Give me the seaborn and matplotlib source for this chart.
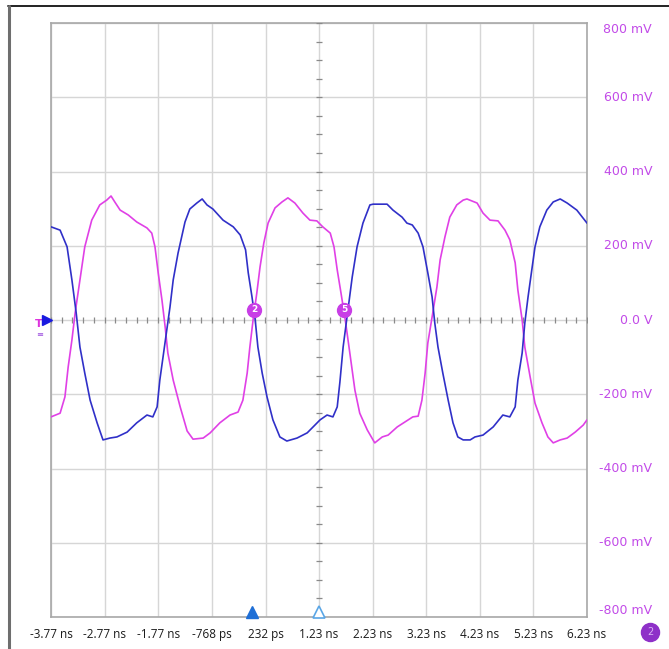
import numpy as np
import pandas as pd
import matplotlib
matplotlib.use("Agg")
import matplotlib.pyplot as plt
from matplotlib.lines import Line2D
import seaborn as sns

# ---- data (time in ns, voltage in mV) ----
blue_t = [-3.77, -3.60, -3.47, -3.38, -3.30, -3.23, -3.14, -3.04, -2.91, -2.80, -2.67, -2.54,
          -2.35, -2.17, -1.98, -1.87, -1.79, -1.74, -1.68, -1.61, -1.55, -1.49, -1.40, -1.27,
          -1.18, -1.05, -0.95, -0.86, -0.75, -0.56, -0.37, -0.24, -0.14, -0.09, -0.02, 0.04,
          0.09, 0.17, 0.26, 0.37, 0.50, 0.63, 0.82, 1.01, 1.12, 1.25, 1.38, 1.49, 1.57, 1.62,
          1.68, 1.75, 1.85, 1.94, 2.05, 2.18, 2.24, 2.50, 2.61, 2.78, 2.87, 2.97, 3.08, 3.17,
          3.26, 3.34, 3.39, 3.45, 3.54, 3.64, 3.73, 3.82, 3.92, 4.05, 4.14, 4.29, 4.48, 4.66,
          4.79, 4.89, 4.94, 5.02, 5.07, 5.13, 5.20, 5.26, 5.35, 5.48, 5.60, 5.73, 5.86, 6.04, 6.23]
blue_mv = [251, 242, 197, 108, 19, -73, -143, -216, -277, -323, -318, -315,
           -302, -277, -256, -261, -234, -162, -100, -27, 35, 108, 180, 264,
           299, 315, 326, 310, 299, 269, 251, 229, 189, 127, 62, 0,
           -73, -143, -207, -269, -315, -326, -318, -304, -288, -269, -256, -261, -234, -167,
           -73, 5, 116, 197, 261, 310, 312, 312, 296, 277, 261, 256, 234, 197,
           127, 62, -8, -73, -143, -216, -277, -315, -323, -323, -315, -310, -288, -256,
           -261, -234, -162, -89, -8, 62, 135, 197, 251, 296, 318, 326, 315, 296, 261]

mag_t = [-3.77, -3.60, -3.51, -3.45, -3.38, -3.32, -3.23, -3.14, -3.01, -2.86, -2.73, -2.65,
         -2.58, -2.48, -2.33, -2.17, -1.98, -1.89, -1.83, -1.77, -1.70, -1.64, -1.59, -1.49,
         -1.36, -1.23, -1.12, -0.93, -0.80, -0.62, -0.43, -0.28, -0.19, -0.11, -0.06, 0.00,
         0.07, 0.13, 0.20, 0.28, 0.41, 0.54, 0.65, 0.78, 0.93, 1.06, 1.19, 1.30, 1.44, 1.51,
         1.57, 1.64, 1.72, 1.81, 1.90, 1.99, 2.13, 2.27, 2.41, 2.52, 2.69, 2.83, 2.98, 3.08,
         3.15, 3.21, 3.26, 3.34, 3.43, 3.49, 3.58, 3.67, 3.80, 3.92, 3.99, 4.18, 4.29, 4.42,
         4.57, 4.70, 4.79, 4.89, 4.94, 5.02, 5.07, 5.17, 5.26, 5.39, 5.50, 5.60, 5.73, 5.86,
         6.01, 6.16, 6.23]
mag_mv = [-261, -251, -207, -127, -54, 19, 108, 197, 269, 310, 323, 334,
          318, 296, 283, 264, 248, 234, 197, 127, 54, -19, -89, -162,
          -234, -299, -321, -318, -304, -277, -256, -248, -216, -143, -73, 0,
          73, 143, 207, 261, 302, 318, 329, 315, 288, 269, 267, 251, 234, 197,
          135, 73, 0, -94, -189, -251, -296, -331, -315, -310, -288, -275, -261, -259,
          -216, -143, -62, 8, 89, 162, 224, 277, 310, 323, 326, 315, 288, 269,
          267, 242, 216, 154, 81, 0, -73, -154, -224, -277, -315, -331, -323, -318,
          -302, -283, -269]

x_ticks = [-3.77, -2.77, -1.77, -0.768, 0.232, 1.23, 2.23, 3.23, 4.23, 5.23, 6.23]
x_labels = ["-3.77 ns", "-2.77 ns", "-1.77 ns", "-768 ps", "232 ps", "1.23 ns",
            "2.23 ns", "3.23 ns", "4.23 ns", "5.23 ns", "6.23 ns"]
y_ticks = [800, 600, 400, 200, 0, -200, -400, -600, -800]
y_labels = ["800 mV", "600 mV", "400 mV", "200 mV", "0.0 V",
            "-200 mV", "-400 mV", "-600 mV", "-800 mV"]

# cursor markers
cursor_t = [0.02, 1.70]
cursor_mv = [27, 27]
cursor_txt = ["2", "5"]

BLUE = "#3030c8"
MAG = "#e040e6"
LABEL = "#c24be8"

sns.set_theme(style="white")
plt.rcParams['font.family'] = ['DejaVu Sans']

fig = plt.figure(figsize=(6.69, 6.49), dpi=100)
ax = fig.add_axes([51/669, 32/649, 536/669, 594/649])

df_b = pd.DataFrame({"t": blue_t, "mV": blue_mv})
df_m = pd.DataFrame({"t": mag_t, "mV": mag_mv})
sns.lineplot(data=df_m, x="t", y="mV", sort=False, color=MAG, lw=1.2, ax=ax, zorder=4)
sns.lineplot(data=df_b, x="t", y="mV", sort=False, color=BLUE, lw=1.2, ax=ax, zorder=5)

ax.set_xlim(-3.77, 6.23)
ax.set_ylim(-800, 800)
ax.set_xlabel("")
ax.set_ylabel("")
ax.set_xticks(x_ticks, x_labels)
ax.set_yticks(y_ticks)
ax.set_yticklabels([])
ax.tick_params(axis='x', length=0, pad=8, labelsize=8.5, labelcolor="#1a1a1a")
ax.tick_params(axis='y', length=0)
for lab in ax.get_xticklabels():
    lab.set_fontfamily(['Open Sans', 'DejaVu Sans'])
ax.grid(True, color="#d6d6d6", lw=1.0)
ax.set_axisbelow(True)
for s in ax.spines.values():
    s.set_color("#a8a8a8")
    s.set_linewidth(1.2)

# center-line minor ticks
center_t = 1.23
mt = np.arange(-3.77, 6.23 + 1e-9, 0.2)
ax.plot(mt, np.zeros_like(mt), ls="none", marker="|", ms=5, mew=0.9, color="#8a8a8a", zorder=3)
mv = np.arange(-800, 800 + 1e-9, 50)
ax.plot(np.full_like(mv, center_t, dtype=float), mv, ls="none", marker="_", ms=5, mew=0.9,
        color="#8a8a8a", zorder=3)

# right labels
ytr = ax.get_yaxis_transform()
xr = (652 - 51) / 536
for v, lab in zip(y_ticks, y_labels):
    va = "center"
    if v == 800:
        va = "top"
    elif v == -800:
        va = "bottom"
    ax.text(xr, v, lab, transform=ytr, ha="right", va=va, fontsize=9, color=LABEL,
            clip_on=False)

# cursor circles
ax.plot(cursor_t, cursor_mv, ls="none", marker="o", ms=10, color="#c83ee6", zorder=6)
for t, v, s in zip(cursor_t, cursor_mv, cursor_txt):
    ax.text(t, v, s, ha="center", va="center", fontsize=6.5, color="white",
            fontweight="bold", zorder=7)

# bottom trigger markers
xtr = ax.get_xaxis_transform()
ax.plot([-0.02], [0.008], transform=xtr, marker="^", ms=8, color="#1f6fd6",
        ls="none", clip_on=False, zorder=8)
ax.plot([1.23], [0.008], transform=xtr, marker="^", ms=8, mfc="white", mec="#5aa6e6",
        mew=1.2, ls="none", clip_on=False, zorder=8)

# left channel marker
ax.plot([-0.0075], [0], transform=ytr, marker=">", ms=7, color="#1a1ae0", ls="none",
        clip_on=False, zorder=8)
ax.text(-0.022, -12, "T", transform=ytr, ha="center", va="center", fontsize=8,
        color="#dd33dd", fontweight="bold", clip_on=False)
ax.text(-0.022, -38, "≡", transform=ytr, ha="center", va="center", fontsize=6,
        color="#9a4adf", clip_on=False)

# bottom-right badge
fig.add_artist(Line2D([650/669], [1 - 632/649], marker="o", ms=13, color="#8e30c8",
                      transform=fig.transFigure, ls="none"))
fig.text(650/669, 1 - 632/649, "2", ha="center", va="center", fontsize=7, color="#d9b3f5")

# frame lines
fig.add_artist(Line2D([8/669, 1], [1 - 5.5/649, 1 - 5.5/649], color="#111111", lw=1.3,
                      transform=fig.transFigure))
fig.add_artist(Line2D([8.5/669, 8.5/669], [0, 1 - 5.5/649], color="#6e6e6e", lw=2.2,
                      transform=fig.transFigure))

fig.savefig("out.png", dpi=100)
